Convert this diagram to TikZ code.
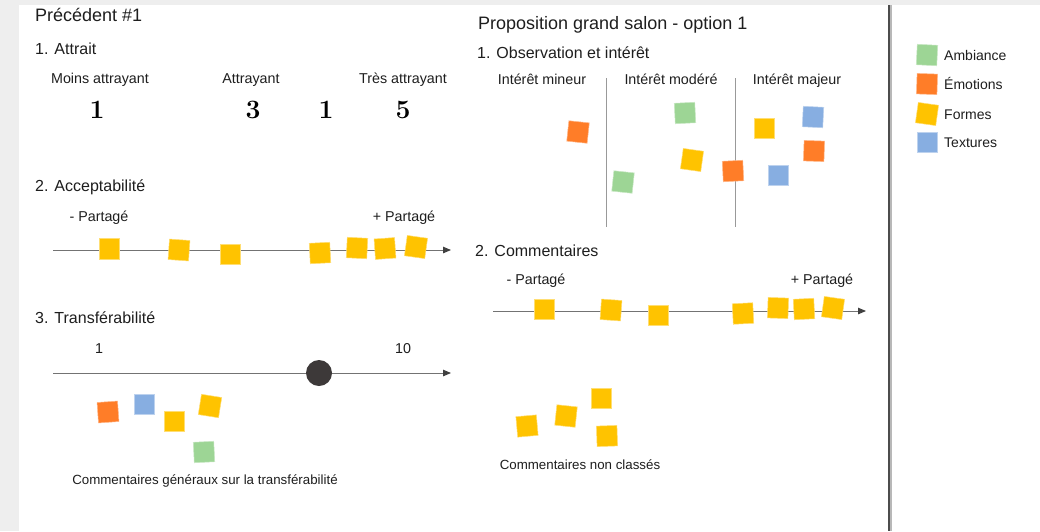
\documentclass[tikz,border=0pt]{standalone}
\usepackage{fontspec}
\setsansfont{Liberation Sans}
\usepackage{tikz}
\usetikzlibrary{arrows.meta}
\definecolor{fond}{HTML}{EEEEEE}
\definecolor{texte}{HTML}{1E1E1E}
\definecolor{curseur}{HTML}{3D3939}
\definecolor{ambiance}{HTML}{9DD595}
\definecolor{emotion}{HTML}{FF7D28}
\definecolor{forme}{HTML}{FFC300}
\definecolor{texture}{HTML}{87AEE1}

\begin{document}
\begin{tikzpicture}[x=1pt,y=-1pt,
		titre/.style={font=\sffamily\fontsize{18}{20}\selectfont, text=texte, anchor=base west, inner sep=0pt},
		rubrique/.style={font=\sffamily\fontsize{16}{18}\selectfont, text=texte, anchor=base west, inner sep=0pt},
		etiquette/.style={font=\sffamily\fontsize{14.3}{16}\selectfont, text=texte, anchor=base, inner sep=0pt},
		petit/.style={font=\sffamily\fontsize{13.3}{15}\selectfont, text=texte, anchor=base, inner sep=0pt},
		legende/.style={font=\sffamily\fontsize{14}{16}\selectfont, text=texte, anchor=base west, inner sep=0pt},
		chiffre/.style={font=\rmfamily\bfseries\fontsize{26.5}{28}\selectfont, anchor=base, inner sep=0pt},
		postit/.style={fill=#1, draw=#1!55!white, line width=0.5pt, minimum size=20.5pt, inner sep=0pt},
		axe/.style={draw=black!55, line width=0.9pt, -{Triangle[length=8pt,width=6.5pt,color=black!75]}},
		separateur/.style={draw=black!40, line width=1pt}]
	\fill[white] (0,0) rectangle (1040,531);
	\fill[fond] (0,0) rectangle (1040,5);
	\fill[fond] (0,0) rectangle (19,531);
	\useasboundingbox (0,0) rectangle (1040,531);
	
	\coordinate (bord-haut) at (889,5);
	\coordinate (bord-bas) at (889,531);
	\draw[black!28, line width=2pt] ([xshift=1.6pt]bord-haut) -- ([xshift=1.6pt]bord-bas);
	\draw[black!70, line width=1.6pt] (bord-haut) -- (bord-bas);
	
	\node[titre] (precedent) at (35,21.5) {Précédent \#1};
	\node[rubrique] (attrait) at (35,54) {1. Attrait};
	\node[etiquette] (moins) at (100,83) {Moins attrayant};
	\node[etiquette] (attrayant) at (251,83) {Attrayant};
	\node[etiquette] (tres) at (403,83) {Très attrayant};
	\foreach \x/\n [count=\i] in {97/1, 253/3, 326/1, 403/5}
		\node[chiffre] (note\i) at (\x,118) {\n};
	
	\node[rubrique] (accept) at (35,191.5) {2. Acceptabilité};
	\node[etiquette] (acc-moins) at (99,221) {- Partagé};
	\node[etiquette] (acc-plus) at (404,221) {+ Partagé};
	\coordinate (acc-debut) at (53,250);
	\coordinate (acc-fin) at (451,250);
	\draw[axe] (acc-debut) -- (acc-fin);
	\foreach \x/\y/\r [count=\i] in {109/248.5/0, 179/250/-4, 230/254/0, 320/253/3, 357/248/-3, 385/248.5/4, 416/247/-8}
		\node[postit=forme, rotate=\r] (acc\i) at (\x,\y) {};
	
	\node[rubrique] (transf) at (35,323) {3. Transférabilité};
	\node[etiquette] (tr-min) at (99,353) {1};
	\node[etiquette] (tr-max) at (403,353) {10};
	\coordinate (tr-debut) at (53,373);
	\coordinate (tr-fin) at (451,373);
	\draw[axe] (tr-debut) -- (tr-fin);
	\node[circle, fill=curseur, minimum size=26pt, inner sep=0pt] (curseur) at (319,373) {};
	\node[postit=emotion, rotate=4] (tr1) at (108,412) {};
	\node[postit=texture] (tr2) at (144,404) {};
	\node[postit=forme] (tr3) at (174,421) {};
	\node[postit=forme, rotate=-9] (tr4) at (210,406) {};
	\node[postit=ambiance, rotate=3] (tr5) at (204,452) {};
	\node[petit] (tr-comm) at (205,484) {Commentaires généraux sur la transférabilité};
	
	\node[titre] (proposition) at (478,29) {Proposition grand salon - option 1};
	\node[rubrique] (observ) at (477,58) {1. Observation et intérêt};
	\node[etiquette] (mineur) at (542,84) {Intérêt mineur};
	\node[etiquette] (modere) at (671,84) {Intérêt modéré};
	\node[etiquette] (majeur) at (797,84) {Intérêt majeur};
	\foreach \x [count=\i] in {606,735}{
		\coordinate (sep\i-haut) at (\x,78);
		\coordinate (sep\i-bas) at (\x,227);
		\draw[separateur] (sep\i-haut) -- (sep\i-bas);
	}
	\node[postit=emotion, rotate=-6] (obs1) at (578,132) {};
	\node[postit=ambiance, rotate=3] (obs2) at (685,113) {};
	\node[postit=forme, rotate=-8] (obs3) at (692,160) {};
	\node[postit=ambiance, rotate=-6] (obs4) at (623,182) {};
	\node[postit=emotion, rotate=3] (obs5) at (733,171) {};
	\node[postit=forme] (obs6) at (764,128) {};
	\node[postit=texture, rotate=-3] (obs7) at (813,117) {};
	\node[postit=emotion, rotate=-2] (obs8) at (814,151) {};
	\node[postit=texture] (obs9) at (778,175) {};
	
	\node[rubrique] (comm) at (475,256) {2. Commentaires};
	\node[etiquette] (com-moins) at (536,284) {- Partagé};
	\node[etiquette] (com-plus) at (822,284) {+ Partagé};
	\coordinate (com-debut) at (493,311);
	\coordinate (com-fin) at (866,311);
	\draw[axe] (com-debut) -- (com-fin);
	\foreach \x/\y/\r [count=\i] in {544/309/0, 611/310/-4, 658/315/0, 743/313.5/3, 778/308/-2, 804/309/3, 833/308/-8}
		\node[postit=forme, rotate=\r] (com\i) at (\x,\y) {};
	
	\foreach \x/\y/\r [count=\i] in {527/426/5, 566/416/-6, 601/398/0, 607/436/2}
		\node[postit=forme, rotate=\r] (libre\i) at (\x,\y) {};
	\node[petit] (non-classes) at (580,469) {Commentaires non classés};
	
	\foreach \c/\y/\r/\t [count=\i] in {ambiance/55/-3/Ambiance, emotion/84/-2/Émotions, forme/114/-8/Formes, texture/142/0/Textures}{
		\node[postit=\c, rotate=\r] (cle\i) at (927,\y) {};
		\node[legende] (txt\i) at (944,\y+5.5) {\t};
	}
\end{tikzpicture}
\end{document}
